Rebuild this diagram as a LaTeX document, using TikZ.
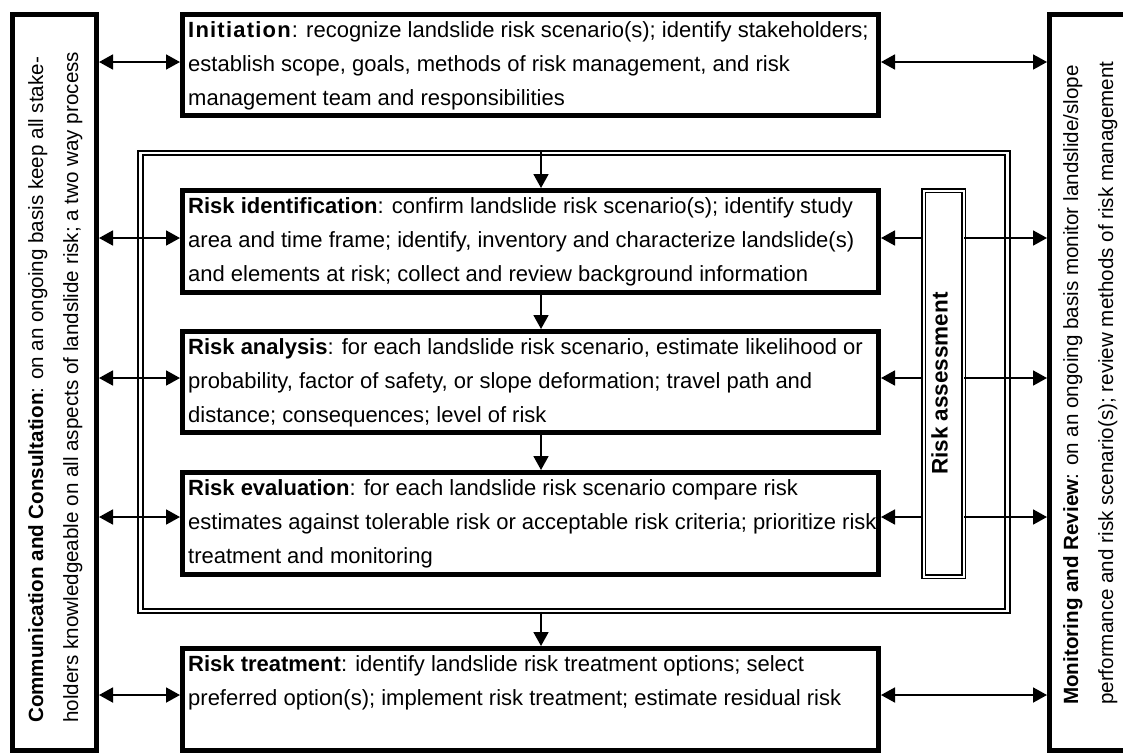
\documentclass[tikz,border=0pt]{standalone}
\usepackage{fontspec}
\setmainfont{Liberation Sans}
\usetikzlibrary{arrows.meta,calc}
\begin{document}
\begin{tikzpicture}[x=1pt,y=-1pt,
  box/.style={draw, line width=5pt, inner sep=0pt, minimum width=696pt},
  sidebox/.style={draw, line width=5pt, inner sep=0pt, minimum height=736pt},
  dblframe/.style={draw, line width=2pt, double=white, double distance=2.5pt, inner sep=0pt},
  asmbox/.style={draw, line width=1.5pt, double=white, double distance=2pt, inner sep=0pt},
  txt/.style={anchor=base west, inner sep=0pt, font=\fontsize{22}{34}\selectfont},
  sidetxt/.style={anchor=base west, inner sep=0pt, rotate=90, font=\fontsize{20.6}{35}\selectfont},
  tip/.tip={Triangle[length=14pt,width=15pt]},
  arr/.style={line width=1.8pt, -tip},
  darr/.style={line width=1.8pt, tip-tip}]
\useasboundingbox (0,0) rectangle (1123,755);
\clip (0,0) rectangle (1123,755);

% frames
\node[dblframe, minimum width=867pt, minimum height=457.75pt] (fr) at (573.75,381.9) {};
\node[asmbox, minimum width=40pt, minimum height=386pt] (asm) at (943.5,383.5) {};
\node[rotate=90, inner sep=0pt, font=\fontsize{22.5}{26}\selectfont\bfseries] (asmtxt) at ($(asm.center)+(-4,0)$) {Risk assessment};

% side boxes
\node[sidebox, minimum width=84pt] (cc) at (54.5,382.5) {};
\node[sidebox, minimum width=76pt] (mr) at (1087.5,382.5) {};
\node[sidetxt] (cctxt) at (43,723) {\vtop{\hbox{\textbf{Communication and Consultation}: on an ongoing basis keep all stake-}\hbox{holders knowledgeable on all aspects of landslide risk; a two way process}}};
\node[sidetxt] (mrtxt) at (1078,705) {\vtop{\hbox{\textbf{Monitoring and Review}: on an ongoing basis monitor landslide/slope}\hbox{performance and risk scenario(s); review methods of risk management}}};

% main boxes
\node[box, minimum height=101pt] (ini) at (530.5,65) {};
\node[box, minimum height=102pt] (ri) at (530.5,241.5) {};
\node[box, minimum height=101pt] (ra) at (530.5,382) {};
\node[box, minimum height=102pt] (re) at (530.5,523.5) {};
\node[box, minimum height=102pt] (rt) at (530.5,699.5) {};

\node[txt] (initxt) at ($(ini.north west)+(8,25)$) {\vtop{\hbox{\textbf{\addfontfeature{LetterSpace=5.5}Initiation}: recognize landslide risk scenario(s); identify stakeholders;}\hbox{establish scope, goals, methods of risk management, and risk}\hbox{management team and responsibilities}}};
\node[txt] (ritxt) at ($(ri.north west)+(8,25)$) {\vtop{\hbox{\textbf{Risk identification}: confirm landslide risk scenario(s); identify study}\hbox{area and time frame; identify, inventory and characterize landslide(s)}\hbox{and elements at risk; collect and review background information}}};
\node[txt] (ratxt) at ($(ra.north west)+(8,25)$) {\vtop{\hbox{\textbf{Risk analysis}: for each landslide risk scenario, estimate likelihood or}\hbox{probability, factor of safety, or slope deformation; travel path and}\hbox{distance; consequences; level of risk}}};
\node[txt] (retxt) at ($(re.north west)+(8,25)$) {\vtop{\hbox{\textbf{Risk evaluation}: for each landslide risk scenario compare risk}\hbox{estimates against tolerable risk or acceptable risk criteria; prioritize risk}\hbox{treatment and monitoring}}};
\node[txt] (rttxt) at ($(rt.north west)+(8,25)$) {\vtop{\hbox{\textbf{Risk treatment}: identify landslide risk treatment options; select}\hbox{preferred option(s); implement risk treatment; estimate residual risk}}};

% connector rows
\coordinate (ax) at (541,0);
\coordinate (r1) at (0,62);
\coordinate (r2) at (0,238);
\coordinate (r3) at (0,378);
\coordinate (r4) at (0,517);
\coordinate (r5) at (0,695);

% vertical arrows
\draw[arr] (fr.north -| ax) -- (ri.north -| ax);
\draw[arr] (ri.south -| ax) -- (ra.north -| ax);
\draw[arr] (ra.south -| ax) -- (re.north -| ax);
\draw[arr] (fr.south -| ax) -- (rt.north -| ax);

% left arrows
\draw[darr] (cc.east |- r1) -- (ini.west |- r1);
\draw[darr] (cc.east |- r2) -- (ri.west |- r2);
\draw[darr] (cc.east |- r3) -- (ra.west |- r3);
\draw[darr] (cc.east |- r4) -- (re.west |- r4);
\draw[darr] (cc.east |- r5) -- (rt.west |- r5);

% right arrows
\draw[darr] (ini.east |- r1) -- (mr.west |- r1);
\draw[darr] (rt.east |- r5) -- (mr.west |- r5);
\draw[arr] (asm.west |- r2) -- (ri.east |- r2);
\draw[arr] (asm.east |- r2) -- (mr.west |- r2);
\draw[arr] (asm.west |- r3) -- (ra.east |- r3);
\draw[arr] (asm.east |- r3) -- (mr.west |- r3);
\draw[arr] (asm.west |- r4) -- (re.east |- r4);
\draw[arr] (asm.east |- r4) -- (mr.west |- r4);
\end{tikzpicture}
\end{document}
